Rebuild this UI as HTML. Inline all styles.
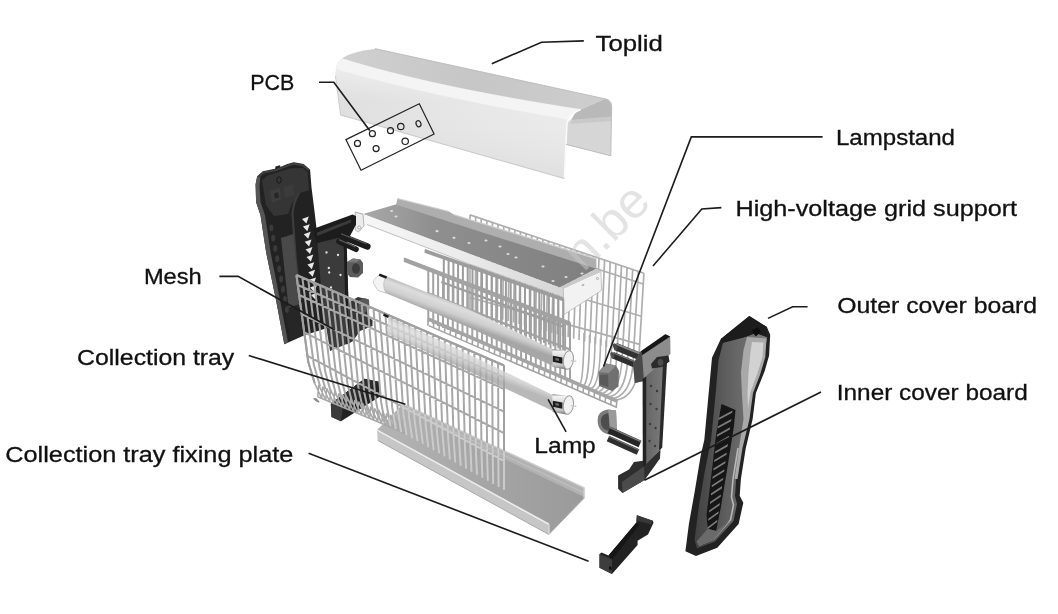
<!DOCTYPE html>
<html>
<head>
<meta charset="utf-8">
<title>Exploded view</title>
<style>
html,body{margin:0;padding:0;background:#fff;}
body{width:1058px;height:614px;overflow:hidden;font-family:"Liberation Sans",sans-serif;}
svg{display:block;position:absolute;left:0;top:0;}
.lbl{font-family:"Liberation Sans",sans-serif;font-size:21.5px;fill:#111;stroke:#111;stroke-width:0.3;}
.ld{fill:none;stroke:#1c1c1c;stroke-width:1.6;stroke-linejoin:miter;stroke-linecap:butt;}
</style>
</head>
<body>
<svg width="1058" height="614" viewBox="0 0 1058 614">
<defs>
</defs>
<rect x="0" y="0" width="1058" height="614" fill="#ffffff"/>

<!-- PARTS-START -->
<filter id="soft" x="0" y="0" width="1058" height="614" filterUnits="userSpaceOnUse"><feGaussianBlur stdDeviation="0.5"/></filter>
<g filter="url(#soft)">
<!-- TOPLID -->
<g id="toplid">
<defs>
<linearGradient id="tlFront" x1="0" y1="0" x2="1" y2="0">
<stop offset="0" stop-color="#dfdfdf"/><stop offset="0.45" stop-color="#e6e6e6"/><stop offset="1" stop-color="#ececec"/>
</linearGradient>
<linearGradient id="tlFrontV" x1="0" y1="0" x2="0" y2="1">
<stop offset="0" stop-color="#ffffff" stop-opacity="0.55"/><stop offset="0.35" stop-color="#ffffff" stop-opacity="0"/><stop offset="1" stop-color="#000000" stop-opacity="0.05"/>
</linearGradient>
<linearGradient id="tlTop" x1="0" y1="0" x2="1" y2="0">
<stop offset="0" stop-color="#d0d0d0"/><stop offset="0.5" stop-color="#c6c6c6"/><stop offset="1" stop-color="#cecece"/>
</linearGradient>
</defs>
<!-- interior back wall + underside (right end) -->
<path d="M580.7,109.4 L605,98.8 Q612,100 611.7,107 L610.8,155.8 L566,144.4 L567,123 Z" fill="#d6d6d6"/>
<path d="M580.7,109.4 L605,98.8 Q611,101 611.5,108 L611,117 L572,120 Q573,113 580.7,109.4 Z" fill="#b9b9b9"/>
<path d="M572,120 L611,116.5 L611,121 L570,124 Z" fill="#c9c9c9"/>
<!-- front face -->
<path d="M335.4,76 L336,68 Q337.5,61 342,58.2 Q430,86 581.2,109.3 Q568,114 566.9,124 L564.4,178.6 L340.6,115 Z" fill="url(#tlFront)"/>
<path d="M335.4,76 L336,68 Q337.5,61 342,58.2 Q430,86 581.2,109.3 Q568,114 566.9,124 L564.4,178.6 L340.6,115 Z" fill="url(#tlFrontV)"/>
<!-- bevel highlight -->
<path d="M342,58.2 Q430,86 581.2,109.3 Q571,113 568.5,119.5 Q430,96.5 336.2,69 Q338,61.5 342,58.2 Z" fill="#f4f4f4"/>
<!-- top face -->
<path d="M342,58.2 Q354,51 375.8,48.8 L605.5,98.9 L581.2,109.3 Q430,86 342,58.2 Z" fill="url(#tlTop)"/>
<!-- edges -->
<path d="M564.4,178.6 L566.9,124 Q568,114 580.7,109.4" fill="none" stroke="#fafafa" stroke-width="1.6"/>
<path d="M340.6,115 L564.4,178.6" fill="none" stroke="#bdbdbd" stroke-width="0.8"/>
<path d="M335.4,76 L340.6,115" fill="none" stroke="#c4c4c4" stroke-width="0.8"/>
<path d="M375,48.6 L605,98.8 Q612,100 611.7,107 L610.8,155.8" fill="none" stroke="#b4b4b4" stroke-width="0.8"/>
<path d="M566,144.4 L610.8,155.8" fill="none" stroke="#b0b0b0" stroke-width="0.8"/>
</g>
<!-- PCB -->
<g id="pcb" fill="none" stroke="#222" stroke-width="1.2">
<path d="M345.9,139.6 L419.3,103.8 L434.1,134 L361,170.2 Z"/>
<circle cx="357.5" cy="143.4" r="3"/>
<circle cx="372.4" cy="133.7" r="3"/>
<circle cx="376.1" cy="148.6" r="3"/>
<circle cx="390.5" cy="130.7" r="3"/>
<circle cx="400.8" cy="126.5" r="3.2"/>
<circle cx="405.2" cy="141.3" r="3.2"/>
<ellipse cx="418.5" cy="123.7" rx="2.4" ry="3.1" transform="rotate(-20 418.5 123.7)"/>
</g>

<g id="rearmesh">
<path d="M470.0,214.9 L470.0,310.9 M475.6,216.8 L475.5,312.4 M481.2,218.7 L480.9,313.9 M486.8,220.6 L486.4,315.3 M492.4,222.5 L491.8,316.8 M498.0,224.3 L497.3,318.2 M503.7,226.2 L502.7,319.7 M509.3,228.1 L508.2,321.1 M514.9,230.0 L513.6,322.6 M520.5,231.9 L519.1,324.0 M526.1,233.7 L524.5,325.5 M531.7,235.6 L530.0,326.9 M537.3,237.5 L535.4,328.4 M542.9,239.4 L540.9,329.8 M548.5,241.3 L546.3,331.3 M554.1,243.1 L551.8,332.7 M559.8,245.0 L557.2,334.2 M565.4,246.9 L562.7,335.7 M571.0,248.8 L568.1,337.1 M576.6,250.6 L573.6,338.6 M582.2,252.5 L579.0,340.0 M587.8,254.4 L584.5,341.5 M593.4,256.3 L589.9,342.9 M599.0,258.2 L595.4,344.4 M604.6,260.0 L600.8,345.8 M610.2,261.9 L606.3,347.3 M615.9,263.8 L611.7,348.7 M621.5,265.7 L617.2,350.2 M627.1,267.6 L622.6,351.6 M632.7,269.4 L628.1,353.1 M638.3,271.3 L633.5,354.5 M643.9,273.2 L639.0,356.0" fill="none" stroke="#aeaeae" stroke-width="1.7" />
<path d="M470.0,214.9 L643.9,273.2 M470.0,227.4 L643.3,284.0 M470.0,264.9 L641.4,316.3 M470.0,297.5 L639.7,344.4" fill="none" stroke="#aeaeae" stroke-width="1.7" />
</g>
<g id="support">
<defs><linearGradient id="flr" x1="0" y1="0" x2="1" y2="0"><stop offset="0" stop-color="#a9a9a9"/><stop offset="0.3" stop-color="#8f8f8f"/><stop offset="1" stop-color="#7f7f7f"/></linearGradient><linearGradient id="fw" x1="0" y1="0" x2="1" y2="0"><stop offset="0" stop-color="#f7f7f7"/><stop offset="0.5" stop-color="#ececec"/><stop offset="1" stop-color="#d6d6d6"/></linearGradient></defs>
<path d="M397.5,198.5 L449.0,211.5 L454.2,214.7 L596.4,258.9 L596.4,268.8 L395.6,206.5 Z" fill="#aeaeae" />
<path d="M397.5,198.5 L449.0,211.5 M454.2,214.7 L596.4,258.9" fill="none" stroke="#cfcfcf" stroke-width="1.2" />
<path d="M363.0,214.1 L395.6,204.5 L596.4,268.8 L559.6,287.6 Z" fill="url(#flr)" />
<ellipse cx="391.6" cy="211" rx="1.6" ry="1.1" fill="#dcdcdc"/>
<ellipse cx="396" cy="216.5" rx="1.6" ry="1.1" fill="#dcdcdc"/>
<ellipse cx="437" cy="231.2" rx="1.6" ry="1.1" fill="#dcdcdc"/>
<ellipse cx="454" cy="237.8" rx="1.6" ry="1.1" fill="#dcdcdc"/>
<ellipse cx="469" cy="243" rx="1.6" ry="1.1" fill="#dcdcdc"/>
<ellipse cx="486" cy="240.5" rx="1.6" ry="1.1" fill="#dcdcdc"/>
<ellipse cx="500" cy="246.5" rx="1.6" ry="1.1" fill="#dcdcdc"/>
<ellipse cx="508" cy="254" rx="1.6" ry="1.1" fill="#dcdcdc"/>
<ellipse cx="516" cy="257.5" rx="1.6" ry="1.1" fill="#dcdcdc"/>
<ellipse cx="543" cy="266.5" rx="1.6" ry="1.1" fill="#dcdcdc"/>
<ellipse cx="553" cy="281" rx="1.6" ry="1.1" fill="#dcdcdc"/>
<ellipse cx="582" cy="273.5" rx="1.6" ry="1.1" fill="#dcdcdc"/>
<ellipse cx="566" cy="277" rx="1.6" ry="1.1" fill="#dcdcdc"/>
<path d="M355.2,212.1 L363.0,214.1 L559.6,287.6 L563.2,289.0 L563.2,296.5 L470.0,264.3 L367.0,224.5 L355.2,223.5 Z" fill="url(#fw)" />
<path d="M367.0,224.5 L470.0,264.3 M470.0,264.3 L563.2,297.0" fill="none" stroke="#b9b9b9" stroke-width="0.9" />
<path d="M355.2,212.1 L363.0,214.1" fill="none" stroke="#bbbbbb" stroke-width="0.8" />
<path d="M355.2,212.1 L363.0,214.3 L364.0,226.0 L358.5,232.0 L355.2,230.0 Z" fill="#ececec" stroke="#a5a5a5" stroke-width="0.8"/>
<circle cx="359.2" cy="227.5" r="1.5" fill="#fff" stroke="#8f8f8f" stroke-width="0.7"/>
<path d="M563.2,287.5 L600.8,271.5 L601.7,290.3 L564.1,314.5 Z" fill="#f2f2f2" stroke="#bdbdbd" stroke-width="0.9"/>
<path d="M559.6,287.6 L596.4,268.8 L600.8,271.5 L563.2,289.0 Z" fill="#c9c9c9" />
<circle cx="597.5" cy="278.5" r="1.1" fill="none" stroke="#888" stroke-width="0.6"/>
<ellipse cx="583" cy="285" rx="1.6" ry="0.8" fill="#aaa" transform="rotate(-28 583 285)"/>
</g>
<g id="hang">
<path d="M443.8,256.7 L443.8,304.3 M448.6,258.4 L448.6,306.1 M453.4,260.0 L453.4,308.0 M458.1,261.7 L458.1,309.8 M462.9,263.4 L462.9,311.6 M467.7,265.1 L467.7,313.4 M472.5,266.7 L472.5,315.3 M477.2,268.4 L477.2,317.1 M482.0,270.1 L482.0,318.9 M486.8,271.7 L486.8,320.8 M491.6,273.4 L491.6,322.6 M496.3,275.1 L496.3,324.4 M501.1,276.8 L501.1,326.2 M505.9,278.4 L505.9,328.1 M510.7,280.1 L510.7,329.9 M515.4,281.8 L515.4,331.7 M520.2,283.4 L520.2,333.6 M525.0,285.1 L525.0,335.4 M529.8,286.8 L529.8,337.2 M534.5,288.5 L534.5,339.0 M539.3,290.1 L539.3,340.9 M544.1,291.8 L544.1,342.7 M548.9,293.5 L548.9,344.5 M553.6,295.2 L553.6,346.3 M558.4,296.8 L558.4,348.2 M563.2,298.5 L563.2,350.0" fill="none" stroke="#9c9c9c" stroke-width="2.0" />
<path d="M424.7,250.0 L563.2,298.5 M424.7,251.6 L563.2,300.3 M441.3,282.0 L563.2,326.8" fill="none" stroke="#9c9c9c" stroke-width="2.2" />
<path d="M428.3,267.9 L428.3,322.0 M433.2,269.8 L433.2,324.0 M438.1,271.7 L438.1,326.0 M443.0,273.6 L443.0,328.0 M447.9,275.4 L447.9,330.0 M452.8,277.3 L452.8,332.0 M457.6,279.2 L457.6,334.0 M462.5,281.1 L462.5,336.0 M467.4,283.0 L467.4,338.0 M472.3,284.9 L472.3,340.0 M477.2,286.7 L477.2,342.0 M482.1,288.6 L482.1,344.0 M486.9,290.5 L486.9,346.0 M491.8,292.4 L491.8,348.0 M496.7,294.3 L496.7,350.0 M501.6,296.1 L501.6,352.0 M506.5,298.0 L506.5,354.0 M511.4,299.9 L511.4,356.0 M516.3,301.8 L516.3,358.0 M521.1,303.7 L521.1,360.0 M526.0,305.6 L526.0,362.0 M530.9,307.4 L530.9,364.0 M535.8,309.3 L535.8,366.0 M540.7,311.2 L540.7,368.0 M545.6,313.1 L545.6,370.0 M550.5,315.0 L550.5,372.0 M555.3,316.9 L555.3,374.0 M560.2,318.7 L560.2,376.0 M565.1,320.6 L565.1,378.0 M570.0,322.5 L570.0,380.0" fill="none" stroke="#a2a2a2" stroke-width="2.0" />
<path d="M403.9,258.5 L570.0,322.5 M403.9,260.6 L570.0,324.8 M427.2,292.9 L570.0,349.5" fill="none" stroke="#a2a2a2" stroke-width="2.4" />
</g>
<g id="rail">
<path d="M428.6,319.1 L617.0,401.0" fill="none" stroke="#a4a4a4" stroke-width="3.6" />
<path d="M428.6,325.6 L617.0,407.5" fill="none" stroke="#a4a4a4" stroke-width="1.5" />
<path d="M428.6,318.1 L427.8,325.6 M434.1,320.5 L433.3,328.0 M439.7,322.9 L438.9,330.4 M445.2,325.3 L444.4,332.8 M450.8,327.7 L450.0,335.2 M456.3,330.1 L455.5,337.6 M461.8,332.6 L461.0,340.1 M467.4,335.0 L466.6,342.5 M472.9,337.4 L472.1,344.9 M478.5,339.8 L477.7,347.3 M484.0,342.2 L483.2,349.7 M489.6,344.6 L488.8,352.1 M495.1,347.0 L494.3,354.5 M500.6,349.4 L499.8,356.9 M506.2,351.8 L505.4,359.3 M511.7,354.2 L510.9,361.7 M517.3,356.6 L516.5,364.1 M522.8,359.1 L522.0,366.6 M528.3,361.5 L527.5,369.0 M533.9,363.9 L533.1,371.4 M539.4,366.3 L538.6,373.8 M545.0,368.7 L544.2,376.2 M550.5,371.1 L549.7,378.6 M556.0,373.5 L555.2,381.0 M561.6,375.9 L560.8,383.4 M567.1,378.3 L566.3,385.8 M572.7,380.7 L571.9,388.2 M578.2,383.1 L577.4,390.6 M583.8,385.5 L583.0,393.0 M589.3,388.0 L588.5,395.5 M594.8,390.4 L594.0,397.9 M600.4,392.8 L599.6,400.3 M605.9,395.2 L605.1,402.7 M611.5,397.6 L610.7,405.1 M617.0,400.0 L616.2,407.5" fill="none" stroke="#a4a4a4" stroke-width="1.6" />
</g>
<g id="rearcurve" fill="none" stroke="#adadad" stroke-width="1.6">
<path d="M584.0,333.1 C584.0,349.1 583.0,379.9 580.0,383.9 M589.5,335.0 C589.5,351.0 588.5,381.5 583.7,385.5 M595.0,336.8 C595.0,352.8 594.0,383.1 587.4,387.1 M600.5,338.7 C600.5,354.7 599.5,384.7 591.1,388.7 M606.0,340.5 C606.0,356.5 605.0,386.3 594.8,390.3 M611.5,342.3 C611.5,358.3 610.5,387.9 598.5,391.9 M617.0,344.2 C617.0,360.2 616.0,389.6 602.2,393.6 M622.5,346.0 C622.5,362.0 621.5,391.2 605.9,395.2 M628.0,347.9 C628.0,363.9 627.0,392.8 609.6,396.8 M633.5,349.7 C633.5,365.7 632.5,394.4 613.3,398.4 M639.0,351.6 C639.0,367.6 638.0,396.0 617.0,400.0"/>
</g>
<g id="lampup">
<defs><linearGradient id="tu1" gradientUnits="userSpaceOnUse" x1="383" y1="275" x2="376.7" y2="292"><stop offset="0" stop-color="#bdbdbd"/><stop offset="0.25" stop-color="#dddddd"/><stop offset="0.65" stop-color="#cfcfcf"/><stop offset="1" stop-color="#a6a6a6"/></linearGradient></defs>
<path d="M383.0,275.0 L386.5,276.3 L465.0,307.6 L553.0,349.5 L553.0,366.0 L465.0,325.8 L378.0,290.0 Z" fill="url(#tu1)" opacity="1.0"/>
<path d="M380,274.6 Q372,279.5 373.6,283.5 L378,290.5 L386,293 Q381,284 386.5,276.3 Z" fill="#f4f4f4" stroke="#b9b9b9" stroke-width="0.7"/>
<path d="M379.2,274.6 L386.6,277.6" stroke="#1a1a1a" stroke-width="2.6" fill="none"/>
<defs><linearGradient id="c1" x1="0" y1="0" x2="0" y2="1"><stop offset="0" stop-color="#8a8a8a"/><stop offset="0.12" stop-color="#f2f2f2"/><stop offset="0.45" stop-color="#d5d5d5"/><stop offset="0.8" stop-color="#c2c2c2"/><stop offset="1" stop-color="#6f6f6f"/></linearGradient></defs>
<path d="M552.4,349.0 L566.4,350.7 L566.4,369.5 L552.4,367.0 Z" fill="url(#c1)" />
<path d="M552.8,355.8 L562.4,357.4 L562.4,363.8 L552.8,361.8 Z" fill="#1b1b1b" />
<path d="M555.4,358.0 L558.9,358.6 L558.9,361.0 L555.4,360.3 Z" fill="#6a6a6a" />
<ellipse cx="568.4" cy="360" rx="5" ry="9.3" fill="#f1f1f1" stroke="#9c9c9c" stroke-width="1" transform="rotate(8 568.4 360)"/>
<path d="M570.9,360.6 L576.4,361.3" fill="none" stroke="#c6c6c6" stroke-width="1.3" />
</g>

<g id="leftcover">
<defs><linearGradient id="lcg" x1="0" y1="0" x2="1" y2="0"><stop offset="0" stop-color="#2a2a2a"/><stop offset="0.18" stop-color="#4a4a4a"/><stop offset="0.3" stop-color="#1f1f1f"/><stop offset="1" stop-color="#191919"/></linearGradient></defs>
<path d="M257.2,176.2 L262.9,171.3 L275.1,168.8 L275.5,166.5 L280.0,165.3 L280.5,167.0 L287.3,164.0 L293.9,162.3 L303.6,164.0 L310.1,169.7 L311.5,187.6 L314.2,208.7 L316.7,229.9 L320.0,262.0 L324.0,300.0 L327.0,328.0 L303.9,335.5 L284.3,344.3 L276.0,300.0 L266.2,252.7 L260.5,215.3 L256.1,202.2 L255.6,184.3 Z" fill="#242424" />
<path d="M257.2,176.2 L260.5,174.5 L259.5,186.0 L260.5,202.0 L265.0,215.5 L270.5,252.0 L280.0,300.0 L288.0,342.5 L284.3,344.3 L276.0,300.0 L266.2,252.7 L260.5,215.3 L256.1,202.2 L255.6,184.3 Z" fill="#555555" />
<path d="M258.5,177 L263.5,172.6 L276,170 L288,165.5 L294,163.8 L303,165.3 L309,170.3" fill="none" stroke="#3f3f3f" stroke-width="2"/>
<path d="M262.0,180.0 L268.0,175.5 L290.0,168.5 L303.0,168.0 L307.5,172.5 L309.0,190.0 L300.0,193.0 L292.0,203.0 L288.0,214.0 L274.0,216.0 L266.0,205.0 Z" fill="#363636" />
<path d="M270.0,191.0 L279.5,188.0 L281.0,199.5 L272.0,202.5 Z" fill="#3d3d3d" />
<path d="M283.0,186.5 L293.0,184.0 L294.5,195.0 L285.0,198.0 Z" fill="#3a3a3a" />
<path d="M274.0,193.5 L278.0,192.2 L279.0,197.5 L275.0,198.6 Z" fill="#252525" />
<ellipse cx="279" cy="180" rx="2.2" ry="3.3" fill="#353535" stroke="#111" stroke-width="0.8"/>
<path d="M299,193 Q293,203 292.5,214 L296,262 L301,300" fill="none" stroke="#3c3c3c" stroke-width="2.2"/>
<path d="M281.0,238.0 L293.5,234.0 L300.0,303.0 L304.0,333.0 L292.0,338.5 Z" fill="#484848" />
<path d="M285.0,309.0 L303.0,303.0 L305.5,334.0 L290.5,340.5 Z" fill="#262626" />
<ellipse cx="271.3" cy="228.0" rx="2.0" ry="3.4" fill="#3a3a3a"/>
<ellipse cx="273.2" cy="238.2" rx="2.0" ry="3.4" fill="#3a3a3a"/>
<ellipse cx="275.2" cy="248.4" rx="2.0" ry="3.4" fill="#3a3a3a"/>
<ellipse cx="277.2" cy="258.6" rx="2.0" ry="3.4" fill="#3a3a3a"/>
<ellipse cx="279.1" cy="268.8" rx="2.0" ry="3.4" fill="#3a3a3a"/>
<ellipse cx="281.1" cy="279.0" rx="2.0" ry="3.4" fill="#3a3a3a"/>
<ellipse cx="283.0" cy="289.2" rx="2.0" ry="3.4" fill="#3a3a3a"/>
<ellipse cx="284.9" cy="299.4" rx="2.0" ry="3.4" fill="#3a3a3a"/>
<ellipse cx="286.9" cy="309.6" rx="2.0" ry="3.4" fill="#3a3a3a"/>
<path d="M302.0,219.0 L308.8,216.6 L306.4,223.6 Z M302.9,226.6 L309.7,224.2 L307.3,231.2 Z M303.8,234.2 L310.6,231.8 L308.2,238.8 Z M304.7,241.8 L311.5,239.4 L309.1,246.4 Z M305.6,249.4 L312.4,247.0 L310.0,254.0 Z M306.5,257.0 L313.3,254.6 L310.9,261.6 Z M307.4,264.6 L314.2,262.2 L311.8,269.2 Z M308.3,272.2 L315.1,269.8 L312.7,276.8 Z M309.2,279.8 L316.0,277.4 L313.6,284.4 Z M310.1,287.4 L316.9,285.0 L314.5,292.0 Z M311.0,295.0 L317.8,292.6 L315.4,299.6 Z" fill="#e9e9e9"/>
</g>
<g id="leftbracket">
<path d="M313.0,229.0 L352.5,214.5 L356.0,216.0 L356.0,224.5 L349.0,238.0 L317.5,246.0 Z" fill="#1b1b1b" />
<path d="M317.0,232.5 L351.0,219.5 L351.0,222.5 L317.3,236.0 Z" fill="#3a3a3a" />
<path d="M317.5,243.0 L346.0,236.0 L348.5,300.0 L349.0,343.0 L330.0,351.0 L322.0,300.0 Z" fill="#3b3b3b" />
<path d="M343.5,237.0 L346.5,236.0 L349.5,343.0 L346.5,344.5 Z" fill="#1a1a1a" />
<circle cx="326.5" cy="252.5" r="1.15" fill="#e4e4e4"/>
<circle cx="338" cy="255" r="1.15" fill="#e4e4e4"/>
<circle cx="328.8" cy="268" r="1.15" fill="#e4e4e4"/>
<circle cx="329.2" cy="272.5" r="1.15" fill="#e4e4e4"/>
<circle cx="340.5" cy="275" r="1.15" fill="#e4e4e4"/>
<circle cx="331" cy="287.5" r="1.15" fill="#e4e4e4"/>
<path d="M341,236 L367.5,246.5" stroke="#1c1c1c" stroke-width="6.2" stroke-linecap="round" fill="none"/>
<path d="M341,233.8 L366.5,243.8" stroke="#5a5a5a" stroke-width="1.2" fill="none"/>
<path d="M339,241.5 L356,249.3" stroke="#1c1c1c" stroke-width="5.6" stroke-linecap="round" fill="none"/>
<path d="M339,239.6 L355.5,247" stroke="#5a5a5a" stroke-width="1.2" fill="none"/>
<path d="M347.0,262.0 L353.0,258.5 L360.5,259.5 L363.0,263.0 L363.0,273.0 L358.0,277.5 L350.0,277.0 L347.0,273.5 Z" fill="#5c5c5c" />
<ellipse cx="356" cy="268.5" rx="4" ry="5.2" fill="#3a3a3a"/>
<path d="M347.0,262.0 L353.0,258.5 L360.5,259.5 L356.0,262.5 Z" fill="#7a7a7a" />
<path d="M349.0,302.0 L358.0,297.0 L366.0,299.0 L368.5,318.0 L372.5,320.0 L372.5,326.0 L360.0,331.0 L353.0,341.0 L349.0,343.5 Z" fill="#353535" />
<path d="M358.5,300.5 L364.0,298.0 L369.0,299.5 L369.5,309.0 L364.5,313.0 L358.5,311.5 Z" fill="#5a5a5a" />
</g>

<g id="rightbracket">
<path d="M615.5,346.5 L640,356.5" stroke="#303030" stroke-width="7.4" fill="none"/>
<path d="M616.5,344.2 L641,354.2" stroke="#8a8a8a" stroke-width="1.8" fill="none"/>
<path d="M612.5,355 L637,365.2" stroke="#2f2f2f" stroke-width="6.6" fill="none"/>
<path d="M613.5,353 L638,363" stroke="#7a7a7a" stroke-width="1.3" fill="none"/>
<ellipse cx="615.2" cy="346.8" rx="2" ry="3.6" fill="#4a4a4a" transform="rotate(-20 615.2 346.8)"/>
<ellipse cx="612.4" cy="355.2" rx="1.8" ry="3.2" fill="#505050" transform="rotate(-20 612.4 355.2)"/>
<path d="M598.5,372.0 L606.0,363.5 L616.0,365.5 L619.0,371.0 L618.5,386.5 L612.0,391.0 L599.0,386.0 Z" fill="#707070" />
<path d="M598.5,372.0 L606.0,363.5 L616.0,365.5 L609.0,373.0 Z" fill="#8d8d8d" />
<path d="M599.5,375.0 L608.0,374.5 L608.5,387.0 L600.0,384.5 Z" fill="#5a5a5a" />
<path d="M597.6,420 Q597.6,411 608,409.5 L616,410.5 L617,432 L611,435 Q597.6,433 597.6,420 Z" fill="#7b7b7b"/>
<path d="M600.8,421 Q600.8,414 609,413 L609.5,431 Q600.8,430 600.8,421 Z" fill="#4d4d4d"/>
<path d="M608.0,409.5 L616.0,410.5 L617.0,432.0 L611.0,435.0 Z" fill="#9a9a9a" />
<path d="M609,430 L640,444" stroke="#262626" stroke-width="7" fill="none"/>
<path d="M610,427.7 L641,441.7" stroke="#7c7c7c" stroke-width="1.4" fill="none"/>
<path d="M608,438.5 L638,452" stroke="#2e2e2e" stroke-width="6.2" fill="none"/>
<path d="M609,436.6 L639,450" stroke="#777" stroke-width="1.1" fill="none"/>
<path d="M633.0,364.0 L640.9,351.3 L665.3,334.2 L670.2,336.6 L670.5,353.7 L644.0,381.0 L634.8,383.0 Z" fill="#8c8c8c" />
<path d="M640.9,351.3 L665.3,334.2 L670.2,336.6 L642.1,355.3 Z" fill="#161616" />
<path d="M633.0,364.0 L640.9,351.3 L642.1,355.3 L644.0,381.0 L634.8,383.0 Z" fill="#484848" />
<defs><linearGradient id="rpl" x1="0" y1="0" x2="1" y2="0"><stop offset="0" stop-color="#646464"/><stop offset="1" stop-color="#7e7e7e"/></linearGradient></defs>
<path d="M644.0,378.0 L666.6,358.0 L660.5,449.5 L644.0,466.7 Z" fill="url(#rpl)" />
<path d="M642.6,379.0 L646.2,376.4 L646.2,465.0 L642.8,468.0 Z" fill="#202020" />
<path d="M663.2,358.5 L667.4,355.5 L662.2,447.8 L659.0,450.5 Z" fill="#2a2a2a" />
<path d="M651.0,364.0 L657.0,357.0 L668.5,355.5 L669.5,361.5 L662.0,367.0 L652.0,368.5 Z" fill="#2b2b2b" />
<ellipse cx="660.5" cy="362.5" rx="2.8" ry="3.4" fill="#4d4d4d"/>
<circle cx="651" cy="386" r="1.2" fill="#3a3a3a"/>
<circle cx="657" cy="391" r="1.2" fill="#3a3a3a"/>
<circle cx="650.5" cy="404" r="1.2" fill="#3a3a3a"/>
<circle cx="656.5" cy="409" r="1.2" fill="#3a3a3a"/>
<circle cx="650" cy="424" r="1.2" fill="#3a3a3a"/>
<circle cx="655.5" cy="428" r="1.2" fill="#3a3a3a"/>
<circle cx="649.5" cy="441" r="1.2" fill="#3a3a3a"/>
<circle cx="655" cy="446" r="1.2" fill="#3a3a3a"/>
<path d="M618.1,475.5 L629.0,469.5 L634.0,462.0 L643.3,460.8 L643.3,466.7 L660.5,449.5 L660.0,458.5 L644.6,479.9 L622.5,493.1 L618.1,488.7 Z" fill="#2f2f2f" />
<path d="M622.0,482.0 L644.0,466.5 L644.6,479.9 L622.5,493.1 Z" fill="#4c4c4c" />
</g>
<g id="fixplate">
<path d="M599.5,554.0 L601.6,552.6 L608.5,555.4 L636.2,522.8 L636.9,515.2 L652.8,520.8 L653.5,522.8 L648.0,534.6 L637.6,540.8 L637.6,545.0 L612.0,574.0 L599.5,567.8 Z" fill="#242424" />
<path d="M599.5,554.0 L612.0,559.5 L612.0,574.0 L599.5,567.8 Z" fill="#3c3c3c" />
<path d="M608.5,555.4 L636.2,522.8 L640.0,524.5 L612.0,559.5 Z" fill="#161616" />
<path d="M636.9,515.2 L652.8,520.8 L651.0,524.5 L636.5,520.5 Z" fill="#383838" />
<path d="M609.0,566.0 L611.5,567.2 L611.5,570.5 L609.0,569.3 Z" fill="#111" />
</g>
<g id="outercover">
<path d="M749.3,316.0 L766.9,327.0 L770.2,334.7 L769.1,355.5 L764.7,370.9 L755.9,392.9 L752.6,419.3 L745.7,448.4 L740.9,479.1 L739.7,495.7 L743.3,502.7 L738.6,524.0 L717.3,547.7 L696.0,555.9 L685.4,551.2 L688.9,524.0 L694.8,490.9 L700.7,455.5 L704.3,440.0 L708.7,392.9 L712.0,357.7 L720.8,339.1 Z" fill="#212121" />
<defs><linearGradient id="ocf" x1="0" y1="0" x2="1" y2="0"><stop offset="0" stop-color="#414141"/><stop offset="0.5" stop-color="#626262"/><stop offset="1" stop-color="#7c7c7c"/></linearGradient></defs>
<path d="M723.0,342.8 L745.0,337.0 L755.9,333.0 L767.0,337.0 L764.5,355.0 L760.0,370.0 L751.5,392.0 L748.0,419.0 L741.0,448.0 L736.2,479.0 L735.0,496.0 L737.0,504.0 L733.5,521.0 L715.0,541.5 L697.0,548.5 L694.5,540.0 L699.0,505.0 L705.0,470.0 L711.0,440.0 L715.5,395.0 L718.5,360.0 Z" fill="url(#ocf)" />
<path d="M747.0,337.0 L766.5,338.5 L765.3,357.0 L760.0,375.0 L753.0,393.0 L749.5,419.0 L742.5,448.0 L737.5,479.0 L734.5,479.0 L739.0,448.0 L743.5,419.0 L742.0,395.0 L741.0,372.0 L743.5,350.0 Z" fill="#a9a9a9" />
<path d="M752.0,342.0 L763.5,342.5 L762.5,357.0 L757.5,373.0 L750.5,392.0 L748.0,408.0 L747.5,394.0 L748.5,372.0 L750.5,352.0 Z" fill="#d2d2d2" />
<path d="M749.3,316.0 L766.9,327.0 L767.0,337.0 L755.9,333.0 L745.0,337.0 L723.0,342.8 L720.8,339.1 Z" fill="#1c1c1c" />
<path d="M752.0,330.5 L757.5,327.5 L761.0,332.0 L755.5,336.5 Z" fill="#0a0a0a" />
<path d="M721.5,404.0 L735.5,410.0 L733.8,427.0 L727.0,470.0 L720.8,507.5 L716.1,531.0 L707.8,528.7 L706.5,515.0 L712.0,470.0 L716.0,435.0 Z" fill="#141414" />
<path d="M718.5,418.0 L732.5,410.5 L732.2,412.8 L718.5,420.0 Z M717.6,426.4 L731.4,418.9 L731.1,421.2 L717.6,428.4 Z M716.8,434.8 L730.2,427.3 L729.9,429.6 L716.8,436.8 Z M716.0,443.2 L729.0,435.7 L728.8,438.0 L716.0,445.2 Z M715.1,451.6 L727.9,444.1 L727.6,446.4 L715.1,453.6 Z M714.2,460.0 L726.8,452.5 L726.5,454.8 L714.2,462.0 Z M713.4,468.4 L725.6,460.9 L725.3,463.2 L713.4,470.4 Z M712.5,476.8 L724.5,469.3 L724.2,471.6 L712.5,478.8 Z M711.7,485.2 L723.3,477.7 L723.0,480.0 L711.7,487.2 Z M710.9,493.6 L722.1,486.1 L721.9,488.4 L710.9,495.6 Z M710.0,502.0 L721.0,494.5 L720.7,496.8 L710.0,504.0 Z M709.1,510.4 L719.9,502.9 L719.6,505.2 L709.1,512.4 Z M708.3,518.8 L718.7,511.3 L718.4,513.6 L708.3,520.8 Z M707.5,527.2 L717.5,519.7 L717.2,522.0 L707.5,529.2 Z" fill="#7c7c7c"/>
<path d="M738,448 L733,479 L731.5,497 L733.5,505 L730.5,520 L714,538.5 L699,545" fill="none" stroke="#b8b8b8" stroke-width="1.6"/>
<path d="M716.1,531.0 L730.5,520.0 L714.0,539.5 L699.0,546.0 L696.5,541.5 L707.8,528.7 Z" fill="#6a6a6a" />
</g>

<g id="leftblock">
<path d="M330.8,403.7 L364.5,378.8 L379.2,381.7 L380.0,396.4 L341.0,421.3 L331.5,416.9 Z" fill="#222" />
<path d="M330.8,403.7 L364.5,378.8 L379.2,381.7 L343.0,407.5 Z" fill="#2e2e2e" />
<path d="M330.8,403.7 L343.0,407.5 L341.0,421.3 L331.5,416.9 Z" fill="#3a3a3a" />
<path d="M312.8,398.5 L316,398 L319.5,401.5 L318.8,402.8 L315.5,401 Z" fill="#8a8a8a"/>
</g>
<g id="trayback">
<defs><linearGradient id="trf" x1="0" y1="0" x2="1" y2="0"><stop offset="0" stop-color="#b4b4b4"/><stop offset="0.5" stop-color="#a6a6a6"/><stop offset="1" stop-color="#9a9a9a"/></linearGradient></defs>
<path d="M377.0,430.1 L403.0,404.0 L584.3,487.8 L584.3,498.0 L548.9,534.5 L548.9,524.2 Z" fill="url(#trf)" />
<path d="M403.0,404.0 L584.3,487.8 L584.3,497.0 L407.0,413.0 Z" fill="#b2b2b2" />
<path d="M403.0,404.0 L584.3,487.8" fill="none" stroke="#cdcdcd" stroke-width="1.4" />
<path d="M405.0,409.0 L584.3,492.8" fill="none" stroke="#c2c2c2" stroke-width="1.0" />
</g>
<g id="frontmesh">
<path d="M296.4,275.0 L308.3,362.0 L314.7,383.2 M302.3,277.6 L313.9,365.0 L320.1,386.3 M308.3,280.2 L319.5,368.1 L325.5,389.3 M314.2,282.8 L325.1,371.1 L330.9,392.4 M320.1,285.3 L330.7,374.1 L336.3,395.4 M326.1,287.9 L336.3,377.1 L341.7,398.5 M332.0,290.5 L341.8,380.2 L347.2,401.5 M337.9,293.1 L347.4,383.2 L352.6,404.6 M343.9,295.7 L353.0,386.2 L358.0,407.6 M349.8,298.3 L358.6,389.3 L363.4,410.7 M355.7,300.9 L364.2,392.3 L368.8,413.7 M361.6,303.4 L369.8,395.3 L374.2,416.8 M367.6,306.0 L375.4,398.3 L379.6,419.8 M373.5,308.6 L381.0,401.4 L385.0,422.9 M379.4,311.2 L386.6,404.4 L390.4,425.9 M385.4,313.8 L392.2,407.4 L395.8,429.0 M391.3,316.4 L397.8,410.5 L401.2,432.0 M397.2,319.0 L403.4,413.5 L406.6,435.1 M403.2,321.5 L408.9,416.5 L412.1,438.1 M409.1,324.1 L414.5,419.5 L417.5,441.2 M415.0,326.7 L420.1,422.6 L422.9,444.2 M421.0,329.3 L425.7,425.6 L428.3,447.3 M426.9,331.9 L431.3,428.6 L433.7,450.3 M432.8,334.5 L436.9,431.7 L439.1,453.4 M438.8,337.1 L442.5,434.7 L444.5,456.4 M444.7,339.6 L448.1,437.7 L449.9,459.5 M450.6,342.2 L453.7,440.7 L455.3,462.5 M456.5,344.8 L459.3,443.8 L460.7,465.6 M462.5,347.4 L464.9,446.8 L466.1,468.6 M468.4,350.0 L470.5,449.8 L471.5,471.7 M474.3,352.6 L476.0,452.9 L477.0,474.7 M480.3,355.2 L481.6,455.9 L482.4,477.8 M486.2,357.7 L487.2,458.9 L487.8,480.8 M492.1,360.3 L492.8,461.9 L493.2,483.9 M498.1,362.9 L498.4,465.0 L498.6,486.9 M504.0,365.5 L504.0,468.0 L504.0,490.0 M296.4,275.0 L504.0,365.5 M297.8,285.0 L504.0,377.3 M299.1,295.0 L504.0,389.1 M301.8,314.1 L504.0,411.6 M304.3,332.4 L504.0,433.1 M307.5,355.9 L504.0,460.8" fill="none" stroke="#a8a8a8" stroke-width="2.0" stroke-linejoin="round"/>
<path d="M296.4,275.0 L504.0,365.5 M296.4,275.0 L308.3,362.0 M308.3,362.0 L314.7,383.2 M504.0,365.5 L504.0,490.0" fill="none" stroke="#a0a0a0" stroke-width="2.0" />
<path d="M314.7,383.2 L321.7,398.4 M318.7,384.9 L317.7,396.7 M318.7,384.9 L325.7,400.0 M322.7,386.5 L321.7,398.4 M322.7,386.5 L329.7,401.7 M326.7,388.2 L325.7,400.0 M326.7,388.2 L333.7,403.4 M330.7,389.9 L329.7,401.7 M330.7,389.9 L337.7,405.0 M334.7,391.5 L333.7,403.4 M334.7,391.5 L341.7,406.7 M338.7,393.2 L337.7,405.0 M338.7,393.2 L345.7,408.4 M342.7,394.9 L341.7,406.7 M342.7,394.9 L349.7,410.0 M346.7,396.5 L345.7,408.4 M346.7,396.5 L353.7,411.7 M350.7,398.2 L349.7,410.0 M350.7,398.2 L357.7,413.4 M354.7,399.9 L353.7,411.7 M354.7,399.9 L361.6,415.0 M358.6,401.5 L357.7,413.4 M358.6,401.5 L365.6,416.7 M362.6,403.2 L361.6,415.0 M362.6,403.2 L369.6,418.4 M366.6,404.9 L365.6,416.7 M366.6,404.9 L373.6,420.1 M370.6,406.6 L369.6,418.4 M370.6,406.6 L377.6,421.7 M374.6,408.2 L373.6,420.1 M374.6,408.2 L381.6,423.4 M378.6,409.9 L377.6,421.7 M378.6,409.9 L385.6,425.1 M382.6,411.6 L381.6,423.4 M382.6,411.6 L389.6,426.7 M386.6,413.2 L385.6,425.1 M386.6,413.2 L393.6,428.4 M390.6,414.9 L389.6,426.7 M390.6,414.9 L397.6,430.1 M394.6,416.6 L393.6,428.4 M394.6,416.6 L401.6,431.7 M398.6,418.2 L397.6,430.1 M398.6,418.2 L405.6,433.4 M402.6,419.9 L401.6,431.7" fill="none" stroke="#a8a8a8" stroke-width="1.5"/>
<path d="M317.7,396.7 L405.6,433.4" fill="none" stroke="#a8a8a8" stroke-width="1.6" />
</g>
<clipPath id="trayclip"><path d="M377,430.1 L403,404 L584.3,487.8 L584.3,498 L548.9,534.5 L548.9,524.2 Z"/></clipPath>
<g clip-path="url(#trayclip)">
<path d="M296.4,275.0 L308.3,362.0 L314.7,383.2 M302.3,277.6 L313.9,365.0 L320.1,386.3 M308.3,280.2 L319.5,368.1 L325.5,389.3 M314.2,282.8 L325.1,371.1 L330.9,392.4 M320.1,285.3 L330.7,374.1 L336.3,395.4 M326.1,287.9 L336.3,377.1 L341.7,398.5 M332.0,290.5 L341.8,380.2 L347.2,401.5 M337.9,293.1 L347.4,383.2 L352.6,404.6 M343.9,295.7 L353.0,386.2 L358.0,407.6 M349.8,298.3 L358.6,389.3 L363.4,410.7 M355.7,300.9 L364.2,392.3 L368.8,413.7 M361.6,303.4 L369.8,395.3 L374.2,416.8 M367.6,306.0 L375.4,398.3 L379.6,419.8 M373.5,308.6 L381.0,401.4 L385.0,422.9 M379.4,311.2 L386.6,404.4 L390.4,425.9 M385.4,313.8 L392.2,407.4 L395.8,429.0 M391.3,316.4 L397.8,410.5 L401.2,432.0 M397.2,319.0 L403.4,413.5 L406.6,435.1 M403.2,321.5 L408.9,416.5 L412.1,438.1 M409.1,324.1 L414.5,419.5 L417.5,441.2 M415.0,326.7 L420.1,422.6 L422.9,444.2 M421.0,329.3 L425.7,425.6 L428.3,447.3 M426.9,331.9 L431.3,428.6 L433.7,450.3 M432.8,334.5 L436.9,431.7 L439.1,453.4 M438.8,337.1 L442.5,434.7 L444.5,456.4 M444.7,339.6 L448.1,437.7 L449.9,459.5 M450.6,342.2 L453.7,440.7 L455.3,462.5 M456.5,344.8 L459.3,443.8 L460.7,465.6 M462.5,347.4 L464.9,446.8 L466.1,468.6 M468.4,350.0 L470.5,449.8 L471.5,471.7 M474.3,352.6 L476.0,452.9 L477.0,474.7 M480.3,355.2 L481.6,455.9 L482.4,477.8 M486.2,357.7 L487.2,458.9 L487.8,480.8 M492.1,360.3 L492.8,461.9 L493.2,483.9 M498.1,362.9 L498.4,465.0 L498.6,486.9 M504.0,365.5 L504.0,468.0 L504.0,490.0 M307.5,355.9 L504.0,460.8" fill="none" stroke="#cbcbcb" stroke-width="2.0" stroke-linejoin="round"/>
</g>
<g id="lamplow">
<defs><linearGradient id="tu2" gradientUnits="userSpaceOnUse" x1="388.4" y1="316.7" x2="381.1" y2="336"><stop offset="0" stop-color="#bdbdbd"/><stop offset="0.25" stop-color="#dddddd"/><stop offset="0.65" stop-color="#cfcfcf"/><stop offset="1" stop-color="#a6a6a6"/></linearGradient></defs>
<path d="M388.4,316.7 L443.0,342.0 L553.0,395.0 L553.0,411.0 L443.0,359.3 L387.5,334.0 Z" fill="url(#tu2)" opacity="0.8"/>
<path d="M383.5,314.6 L388.5,316.8" stroke="#1a1a1a" stroke-width="2.4" fill="none"/>
<defs><linearGradient id="c2" x1="0" y1="0" x2="0" y2="1"><stop offset="0" stop-color="#8a8a8a"/><stop offset="0.12" stop-color="#f2f2f2"/><stop offset="0.45" stop-color="#d5d5d5"/><stop offset="0.8" stop-color="#c2c2c2"/><stop offset="1" stop-color="#6f6f6f"/></linearGradient></defs>
<path d="M552.4,394.0 L566.4,395.7 L566.4,414.5 L552.4,412.0 Z" fill="url(#c2)" />
<path d="M552.8,400.8 L562.4,402.4 L562.4,408.8 L552.8,406.8 Z" fill="#1b1b1b" />
<path d="M555.4,403.0 L558.9,403.6 L558.9,406.0 L555.4,405.3 Z" fill="#6a6a6a" />
<ellipse cx="568.4" cy="405" rx="5" ry="9.3" fill="#f1f1f1" stroke="#9c9c9c" stroke-width="1" transform="rotate(8 568.4 405)"/>
<path d="M570.9,405.6 L576.4,406.3" fill="none" stroke="#c6c6c6" stroke-width="1.3" />
</g>
<g id="trayfront">
<path d="M377.0,430.1 L548.9,524.2 L548.9,534.5 L377.7,440.4 Z" fill="#c6c6c6" />
<path d="M377.0,430.1 L548.9,524.2" fill="none" stroke="#ededed" stroke-width="1.6" />
<path d="M377.7,440.4 L548.9,534.5" fill="none" stroke="#a9a9a9" stroke-width="1.0" />
<path d="M548.9,534.5 L584.3,498.0" fill="none" stroke="#b4b4b4" stroke-width="1.0" />
<path d="M548.9,524.2 L548.9,534.5 M584.3,487.8 L584.3,498.0" fill="none" stroke="#d4d4d4" stroke-width="1.6" />
</g>

</g>
<!-- PARTS-END -->

<!-- watermark -->
<g transform="translate(603.5,253) rotate(-45)" opacity="0.5">
<text x="-27.8" y="0" font-family="Liberation Sans, sans-serif" font-size="50" fill="#c8c8c8">n.be</text>
</g>

<!-- leader lines -->
<g class="ld">
<polyline points="583.8,40.9 541.5,42.2 491.8,63.8"/>
<polyline points="319,82.2 333.8,82.2 369.7,130.4"/>
<polyline points="822.6,136.9 691.3,136.9 603.5,366.5"/>
<polyline points="721.4,207.6 701.8,209 653,266"/>
<polyline points="219.4,276.4 238.1,276.4 334.8,330"/>
<polyline points="807.6,306.8 792.6,306.8 768,318.4"/>
<polyline points="248.8,355.5 405.4,404.2"/>
<polyline points="821,392 644.4,480.3"/>
<polyline points="548.1,399.4 566.1,431.8"/>
<polyline points="308.6,453.2 588.6,561.2"/>
</g>

<!-- labels -->
<g class="lbl">
<text x="595.6" y="50.7" textLength="67.3" lengthAdjust="spacingAndGlyphs">Toplid</text>
<text x="250.2" y="90.4" textLength="44.1" lengthAdjust="spacingAndGlyphs">PCB</text>
<text x="836.0" y="144.5" textLength="119.0" lengthAdjust="spacingAndGlyphs">Lampstand</text>
<text x="735.5" y="215.9" textLength="281.6" lengthAdjust="spacingAndGlyphs">High-voltage grid support</text>
<text x="143.9" y="283.7" textLength="57.9" lengthAdjust="spacingAndGlyphs">Mesh</text>
<text x="837.3" y="312.6" textLength="199.8" lengthAdjust="spacingAndGlyphs">Outer cover board</text>
<text x="77.1" y="365" textLength="157.2" lengthAdjust="spacingAndGlyphs">Collection tray</text>
<text x="836.8" y="399.5" textLength="190.9" lengthAdjust="spacingAndGlyphs">Inner cover board</text>
<text x="534.3" y="452.6" textLength="61.5" lengthAdjust="spacingAndGlyphs">Lamp</text>
<text x="5.3" y="461.7" textLength="288.0" lengthAdjust="spacingAndGlyphs">Collection tray fixing plate</text>
</g>
</svg>
</body>
</html>
